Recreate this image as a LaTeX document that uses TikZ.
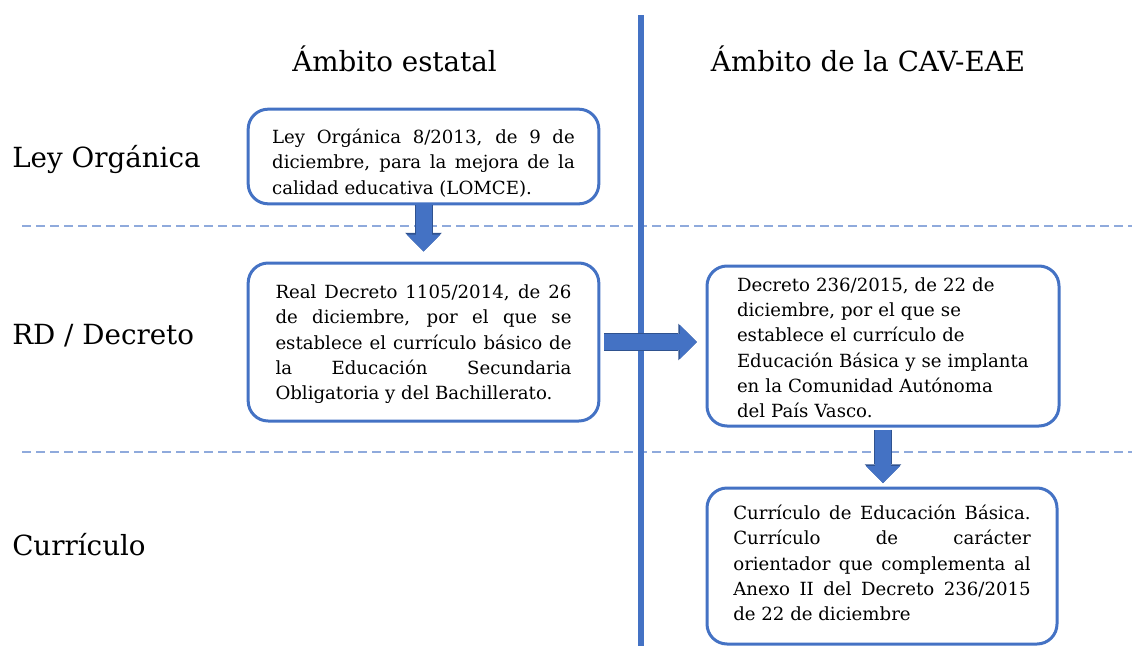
\documentclass[tikz,border=0pt]{standalone}
\usepackage{fontspec}
\setmainfont{DejaVu Serif}
\usetikzlibrary{arrows.meta}
\definecolor{boxblue}{RGB}{68,114,196}
\definecolor{edgeblue}{RGB}{47,82,143}
\definecolor{dashblue}{RGB}{143,170,220}
\begin{document}
\begin{tikzpicture}[x=0.75pt,y=-0.75pt,
  law box/.style={draw=boxblue, line width=2.25pt, rounded corners=15pt, fill=white, inner sep=0pt, font=\fontsize{13.6}{19}\selectfont},
  row label/.style={anchor=base west, inner sep=0pt, font=\fontsize{20.8}{25}\selectfont},
  heading/.style={anchor=base, inner sep=0pt, font=\fontsize{20.8}{25}\selectfont},
  sep line/.style={dashblue, line width=1.5pt, dash pattern=on 6.75pt off 3.75pt},
  block arrow/.style={draw=boxblue, line width=12pt, -{Triangle[length=12.75pt,width=25.5pt,line width=0pt]},
    preaction={draw=edgeblue, line width=13.5pt, -{Triangle[length=14pt,width=27.5pt,line width=0pt]}}}]
\useasboundingbox (0,0) rectangle (1132,646);
\draw [sep line] (22,226) -- (1132,226);
\draw [sep line] (22,452) -- (1132,452);
\draw [boxblue, line width=4.5pt] (641,15) -- (641,646);
\node [heading] (estatal) at (394.5,71) {Ámbito estatal};
\node [heading] (cavtitle) at (868,71) {Ámbito de la CAV-EAE};
\node [row label] (leyrow) at (12,167) {Ley Orgánica};
\node [row label] (rdrow) at (12,344) {RD / Decreto};
\node [row label] (currow) at (12,555) {Currículo};
\node [law box, minimum width=263pt, minimum height=71pt, text width=227pt, align=justify] (lomce) at (423.5,156.5)
  {\rule{0pt}{20.5pt}Ley Orgánica 8/2013, de 9 de\linebreak diciembre, para la mejora de la\linebreak calidad educativa (LOMCE).};
\node [law box, minimum width=263pt, minimum height=118.5pt, text width=222pt, align=justify] (rd) at (423.5,342)
  {\rule{0pt}{14pt}Real Decreto 1105/2014, de 26\linebreak de diciembre, por el que se\linebreak establece el currículo básico de\linebreak la Educación Secundaria\linebreak Obligatoria y del Bachillerato.};
\node [law box, minimum width=264pt, minimum height=120pt, text width=219pt, align=left] (cav) at (883,346)
  {\rule{0pt}{13pt}Decreto 236/2015, de 22 de\\ diciembre, por el que se\\ establece el currículo de\\ Educación Básica y se implanta\\ en la Comunidad Autónoma\\ del País Vasco.};
\node [law box, minimum width=262.5pt, minimum height=117pt, text width=223pt, align=justify] (cur) at (882,566)
  {Currículo de Educación Básica.\linebreak Currículo de carácter\linebreak orientador que complementa al\linebreak Anexo II del Decreto 236/2015\linebreak de 22 de diciembre\rule[-4.5pt]{0pt}{0pt}};
\draw [block arrow, shorten >=7.5pt] (lomce.south) -- (lomce.south |- rd.north);
\draw [block arrow, shorten <=3pt, shorten >=6.4pt] (rd.east) -- (rd.east -| cav.west);
\draw [block arrow, shorten <=1.5pt, shorten >=2.6pt] (cav.south) -- (cav.south |- cur.north);
\end{tikzpicture}
\end{document}
